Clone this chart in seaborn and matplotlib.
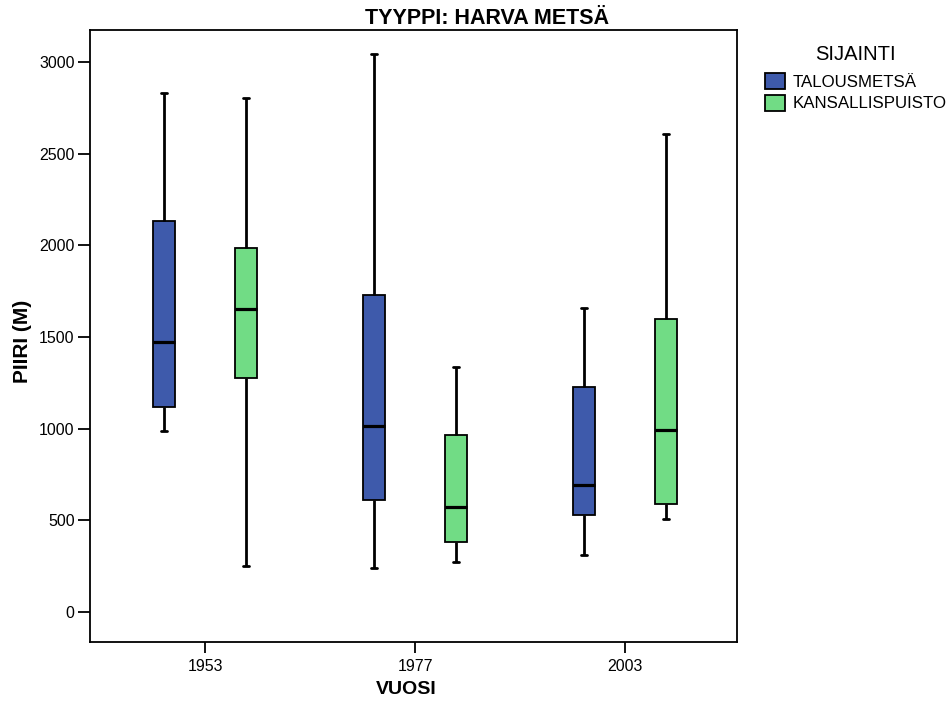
import numpy as np
import pandas as pd
import matplotlib
matplotlib.use("Agg")
import matplotlib.pyplot as plt
import seaborn as sns

# ---- data ----
years = ["1953", "1977", "2003"]
locations = ["TALOUSMETSÄ", "KANSALLISPUISTO"]
# five-number summaries per year: min, q1, median, q3, max
talous_min = [985, 240, 310]
talous_q1 = [1120, 610, 527]
talous_med = [1475, 1015, 695]
talous_q3 = [2135, 1730, 1227]
talous_max = [2830, 3045, 1660]

kansa_min = [250, 275, 507]
kansa_q1 = [1278, 383, 590]
kansa_med = [1655, 575, 993]
kansa_q3 = [1985, 965, 1600]
kansa_max = [2805, 1335, 2605]

yticks = [0, 500, 1000, 1500, 2000, 2500, 3000]

# Build a small table: five values per group reproduce the summary exactly
rows = []
for i, y in enumerate(years):
    for v in (talous_min[i], talous_q1[i], talous_med[i], talous_q3[i], talous_max[i]):
        rows.append({"VUOSI": y, "SIJAINTI": locations[0], "PIIRI": v})
    for v in (kansa_min[i], kansa_q1[i], kansa_med[i], kansa_q3[i], kansa_max[i]):
        rows.append({"VUOSI": y, "SIJAINTI": locations[1], "PIIRI": v})
df = pd.DataFrame(rows)

sns.set_theme(style="white")
plt.rcParams["font.family"] = ["Liberation Sans", "DejaVu Sans"]
plt.rcParams["text.color"] = "black"

W, H = 951, 702
fig = plt.figure(figsize=(W / 100, H / 100), dpi=100)
ax = fig.add_axes([90 / W, 60 / H, 647 / W, 612 / H])

blue = "#3e5aab"
green = "#71dc85"

sns.boxplot(
    data=df, x="VUOSI", y="PIIRI", hue="SIJAINTI",
    order=years, hue_order=locations,
    palette=[blue, green], saturation=1,
    whis=(0, 100), showfliers=False,
    width=0.78, gap=0.73,
    linecolor="black", linewidth=1.3,
    medianprops=dict(linewidth=2.3, color="black"),
    whiskerprops=dict(linewidth=2.0, color="black"),
    capprops=dict(linewidth=2.0, color="black"),
    capwidths=0.03,
    ax=ax,
)

ax.set_ylim(-164, 3175)
ax.set_xlim(-0.548, 2.533)
ax.set_yticks(yticks)
ax.set_yticklabels([str(t) for t in yticks])
ax.set_xlabel("")
ax.set_ylabel("")

for s in ax.spines.values():
    s.set_visible(True)
    s.set_color("black")
    s.set_linewidth(1.3)

ax.tick_params(axis="y", which="major", left=True, length=8.5, width=1.3,
               color="black", labelsize=11.5, labelcolor="black", pad=2.5)
ax.tick_params(axis="x", which="major", bottom=True, length=8, width=1.3,
               color="black", labelsize=11.5, labelcolor="black", pad=4)

# Titles
fig.text(487 / W, 1 - 18 / H, "TYYPPI: HARVA METSÄ", ha="center", va="center",
         fontsize=15.5, fontweight="bold", color="black")
fig.text(406 / W, 1 - 690 / H, "VUOSI", ha="center", va="center",
         fontsize=14, fontweight="bold", color="black")
fig.text(22 / W, 1 - 341 / H, "PIIRI (M)", ha="center", va="center",
         rotation=90, fontsize=15, fontweight="bold", color="black")

# Legend
handles, labels = ax.get_legend_handles_labels()
if ax.get_legend() is not None:
    ax.get_legend().remove()
fig.text(855 / W, 1 - 55 / H, "SIJAINTI", ha="center", va="center",
         fontsize=14.5, color="black")
leg = ax.legend(
    handles, labels,
    loc="upper left", bbox_to_anchor=(765 / W, 1 - 73 / H),
    bbox_transform=fig.transFigure, frameon=False,
    fontsize=12.2,
    handlelength=1.2, handleheight=1.08, handletextpad=0.42,
    labelspacing=0.28, borderpad=0, borderaxespad=0,
)
for h in leg.legend_handles:
    h.set_edgecolor("black")
    h.set_linewidth(1.3)
for t in leg.get_texts():
    t.set_color("black")

fig.savefig("out.png", dpi=100)
